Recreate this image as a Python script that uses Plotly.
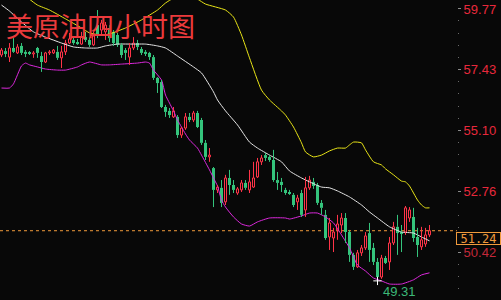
import plotly.graph_objects as go

# ---------------- data ----------------
title_text = "美原油四小时图"

open_ = [58.00, 58.15, 57.92, 58.27, 58.08, 58.35, 58.12, 58.08, 58.04, 58.27,
         57.96, 57.73, 58.08, 58.08, 58.12, 57.89, 58.12, 58.46, 58.58, 58.50,
         58.42, 58.69, 58.58, 58.39, 59.15, 58.96, 58.89, 59.04, 58.89, 58.77,
         58.39, 58.19, 57.92, 58.27, 58.46, 58.23, 58.12, 58.08, 57.92, 57.12,
         56.96, 56.00, 55.85, 55.62, 55.62, 54.92, 55.19, 55.62, 55.50, 55.77,
         55.50, 54.62, 54.08, 53.65, 52.81, 52.89, 52.35, 53.27, 53.00, 52.69,
         52.81, 53.08, 52.81, 52.92, 53.31, 53.89, 54.15, 54.08, 53.96, 53.19,
         53.12, 52.81, 52.73, 52.62, 52.35, 52.69, 52.04, 52.89, 53.12, 53.00,
         52.31, 51.85, 51.00, 50.96, 51.27, 51.46, 51.73, 51.19, 50.31, 49.85,
         50.39, 50.58, 51.15, 50.58, 50.04, 49.46, 50.19, 50.04, 50.77, 51.39,
         51.19, 51.19, 51.73, 51.77, 51.00, 50.62, 50.73, 51.08]
high = [58.27, 58.27, 58.46, 58.65, 58.42, 58.46, 58.19, 58.15, 58.15, 58.31,
        58.12, 58.12, 58.19, 58.23, 58.35, 58.35, 58.58, 58.85, 58.69, 58.62,
        58.89, 58.89, 58.69, 58.89, 59.73, 59.35, 59.27, 59.15, 58.96, 58.85,
        58.46, 58.27, 58.46, 58.69, 58.58, 58.31, 58.19, 58.12, 58.00, 57.15,
        57.04, 56.08, 55.96, 56.00, 55.69, 55.23, 55.77, 55.77, 55.85, 55.85,
        55.58, 54.73, 54.42, 53.69, 53.00, 53.19, 53.39, 53.58, 53.19, 52.92,
        53.19, 53.19, 53.58, 53.89, 54.04, 54.15, 54.23, 54.15, 54.35, 53.50,
        53.27, 52.89, 52.81, 52.69, 52.62, 52.81, 53.31, 53.35, 53.27, 53.08,
        52.42, 52.04, 51.73, 51.35, 51.85, 51.92, 51.92, 51.27, 50.39, 50.50,
        50.69, 51.19, 51.54, 50.77, 50.19, 50.31, 50.27, 51.00, 51.58, 51.85,
        51.46, 52.19, 52.15, 52.12, 51.35, 51.39, 51.35, 51.46]
low = [57.92, 57.92, 57.73, 58.08, 58.04, 58.00, 57.92, 58.00, 57.89, 57.89,
       57.35, 57.69, 58.00, 58.04, 57.81, 57.50, 58.00, 58.42, 58.39, 58.39,
       58.39, 58.50, 58.31, 58.35, 58.65, 58.73, 58.58, 58.50, 58.35, 58.31,
       57.89, 57.81, 57.62, 58.19, 58.19, 58.00, 57.96, 57.81, 57.04, 56.54,
       55.96, 55.62, 55.58, 55.58, 54.81, 54.81, 55.12, 55.42, 55.42, 55.19,
       54.54, 53.96, 53.89, 52.15, 52.69, 52.15, 52.23, 52.62, 52.69, 52.62,
       52.73, 52.81, 52.69, 52.89, 53.27, 53.77, 53.92, 53.89, 53.12, 52.81,
       52.73, 52.62, 52.62, 52.15, 52.04, 51.77, 51.77, 52.81, 52.85, 52.23,
       51.85, 50.89, 50.50, 50.42, 50.89, 51.15, 50.77, 50.04, 49.73, 49.81,
       50.27, 50.50, 50.04, 49.92, 49.31, 49.39, 49.96, 49.73, 50.69, 50.31,
       50.42, 51.08, 51.58, 50.81, 50.23, 50.50, 50.62, 51.00]
close = [58.19, 58.04, 58.27, 58.12, 58.31, 58.08, 58.04, 58.04, 58.08, 58.08,
         57.73, 58.08, 58.12, 58.19, 57.89, 58.12, 58.46, 58.62, 58.46, 58.42,
         58.69, 58.58, 58.39, 58.73, 58.77, 59.23, 59.15, 58.65, 58.46, 58.39,
         58.00, 58.08, 58.27, 58.46, 58.31, 58.08, 58.04, 57.92, 57.12, 56.92,
         56.00, 55.81, 55.69, 55.85, 54.92, 55.19, 55.62, 55.50, 55.77, 55.23,
         54.62, 54.08, 54.15, 52.81, 52.92, 52.31, 53.27, 53.00, 52.81, 52.85,
         53.08, 52.89, 53.12, 53.27, 53.89, 54.04, 54.04, 53.96, 53.19, 53.08,
         53.00, 52.69, 52.69, 52.23, 52.50, 51.85, 52.89, 53.19, 52.96, 52.31,
         52.12, 50.96, 51.54, 51.19, 51.50, 51.73, 51.19, 50.31, 49.85, 50.39,
         50.58, 51.04, 50.50, 50.04, 49.46, 50.19, 50.00, 50.77, 51.39, 51.15,
         51.12, 52.12, 52.04, 50.96, 50.69, 50.89, 51.08, 51.24]

upper_idx = [0, 3, 5, 7, 9, 12, 16, 20, 22, 25, 27, 31, 35, 39, 41, 43, 46, 49, 51, 56,
             58, 60, 62, 65, 67, 70, 71, 73, 75, 76, 78, 80, 82, 84, 86, 87, 88, 90, 91, 93,
             95, 96, 98, 100, 101, 102, 104, 105, 106, 107]
upper_val = [61.65, 60.88, 60.50, 60.15, 59.92, 59.73, 59.39, 59.04, 58.85, 58.77,
             58.81, 59.04, 59.35, 59.73, 60.00, 60.19, 60.35, 60.15, 59.96, 59.73,
             59.46, 58.77, 57.89, 56.65, 56.27, 55.85, 55.69, 55.23, 54.62, 54.27,
             54.08, 54.15, 54.31, 54.42, 54.42, 54.54, 54.65, 54.62, 54.35, 53.89,
             53.77, 53.62, 53.39, 53.15, 53.12, 52.96, 52.42, 52.23, 52.12, 52.12]

mid_idx = [0, 2, 5, 8, 11, 15, 18, 21, 24, 26, 29, 33, 36, 39, 41, 44, 48, 50, 53, 54,
           56, 59, 62, 64, 67, 70, 72, 75, 77, 80, 82, 84, 87, 90, 92, 94, 97, 100, 103, 105, 107]
mid_val = [59.92, 59.69, 59.27, 58.89, 58.69, 58.46, 58.31, 58.27, 58.27, 58.35,
           58.42, 58.42, 58.42, 58.35, 58.27, 57.96, 57.54, 57.31, 56.58, 56.27,
           55.85, 55.31, 54.65, 54.42, 54.15, 53.89, 53.54, 53.27, 53.12, 52.92,
           52.89, 52.77, 52.54, 52.23, 51.96, 51.73, 51.39, 51.19, 51.15, 51.00, 50.85]

lower_idx = [0, 2, 3, 5, 6, 7, 9, 11, 14, 16, 19, 20, 22, 25, 27, 30, 34, 36, 37, 38,
             40, 41, 42, 43, 44, 45, 46, 47, 49, 50, 52, 53, 54, 55, 56, 58, 60, 62, 64, 67,
             71, 72, 75, 77, 79, 81, 83, 85, 87, 89, 91, 93, 95, 97, 100, 103, 105, 107]
lower_val = [56.73, 56.73, 56.89, 57.58, 57.69, 57.62, 57.54, 57.46, 57.42, 57.42,
             57.54, 57.62, 57.73, 57.62, 57.62, 57.65, 57.69, 57.73, 57.69, 57.42,
             57.04, 56.46, 56.15, 55.85, 55.50, 55.23, 54.96, 54.73, 54.42, 54.15,
             53.58, 53.27, 52.96, 52.42, 52.15, 51.77, 51.50, 51.42, 51.58, 51.73,
             51.73, 51.69, 51.81, 51.92, 51.92, 51.77, 51.54, 51.08, 50.58, 49.92,
             49.69, 49.42, 49.31, 49.19, 49.19, 49.35, 49.54, 49.62]

price_ticks = [59.77, 57.43, 55.10, 52.76, 50.42]
tick_labels = ["59.77", "57.43", "55.10", "52.76", "50.42"]

# ---------------- style ----------------
BG = "#080808"
RED = "#ff3448"
GREEN = "#34c47c"
YELLOW = "#e8e417"
WHITE = "#e6e6e6"
MAGENTA = "#dc28dc"
ORANGE = "#f09a3c"
LABEL_RED = "#e8283c"

idx = list(range(len(close)))
up = [c >= o for o, c in zip(open_, close)]


def wicks(sel):
    xs, ys = [], []
    for i in idx:
        if up[i] != sel:
            continue
        top = max(open_[i], close[i])
        bot = min(open_[i], close[i])
        xs += [i, i, None, i, i, None]
        ys += [high[i], top, None, bot, low[i], None]
    return xs, ys


fig = go.Figure()

# bands
fig.add_trace(go.Scatter(x=upper_idx, y=upper_val, mode="lines",
                         line=dict(color=YELLOW, width=1, shape="spline", smoothing=0.5)))
fig.add_trace(go.Scatter(x=mid_idx, y=mid_val, mode="lines",
                         line=dict(color=WHITE, width=1, shape="spline", smoothing=0.5)))
fig.add_trace(go.Scatter(x=lower_idx, y=lower_val, mode="lines",
                         line=dict(color=MAGENTA, width=1, shape="spline", smoothing=0.5)))

# wicks
wx, wy = wicks(True)
fig.add_trace(go.Scatter(x=wx, y=wy, mode="lines", line=dict(color=RED, width=1)))
wx, wy = wicks(False)
fig.add_trace(go.Scatter(x=wx, y=wy, mode="lines", line=dict(color=GREEN, width=1)))

# bodies
ux = [i for i in idx if up[i]]
fig.add_trace(go.Bar(x=ux, base=[open_[i] for i in ux],
                     y=[close[i] - open_[i] for i in ux], width=0.5,
                     marker=dict(color=BG, line=dict(color=RED, width=1))))
dx = [i for i in idx if not up[i]]
fig.add_trace(go.Bar(x=dx, base=[close[i] for i in dx],
                     y=[open_[i] - close[i] for i in dx], width=0.75,
                     marker=dict(color=GREEN, line=dict(width=0))))

# lowest low marker
low_min = min(low)
imin = low.index(low_min)
fig.add_trace(go.Scatter(x=[imin], y=[low_min], mode="markers",
                         marker=dict(symbol="cross-thin", size=6,
                                     line=dict(color="#ffffff", width=1))))

last = close[-1]
tick_text = tick_labels[:-1] + [f'<span style="color:#c4283a">{tick_labels[-1]}</span>']

fig.update_layout(
    width=501, height=300,
    margin=dict(l=0, r=44, t=0, b=0, pad=0),
    paper_bgcolor=BG, plot_bgcolor=BG,
    showlegend=False, hovermode=False, barmode="overlay",
    xaxis=dict(range=[-0.375, -0.375 + 457 / 4], visible=False, fixedrange=True),
    yaxis=dict(range=[48.575, 60.116], side="right", tickmode="array",
               tickvals=price_ticks, ticktext=tick_text,
               ticks="outside", ticklen=3, tickwidth=1, tickcolor="#8a8a8a",
               tickfont=dict(family="Liberation Sans, Arial", size=13, color=LABEL_RED),
               showgrid=False, zeroline=False, showline=False, fixedrange=True,
               automargin=False,
               minor=dict(ticks="outside", ticklen=1, tickwidth=1, tickcolor="#6a6a6a",
                          tickmode="linear", tick0=price_ticks[-1],
                          dtick=round((price_ticks[0] - price_ticks[1]) / 5, 3))),
    shapes=[dict(type="line", xref="paper", x0=0, x1=1, yref="y", y0=last, y1=last,
                 line=dict(color=ORANGE, width=1, dash="3px,3px"), layer="below")],
    annotations=[
        dict(text=title_text, xref="paper", yref="paper", x=0, y=1,
             xanchor="left", yanchor="middle", xshift=4, yshift=-25,
             showarrow=False,
             font=dict(family="Noto Sans CJK SC", size=27, color="#ec3a3c")),
        dict(text=f"{last:.2f}", xref="paper", yref="y", x=1, y=last,
             xanchor="left", yanchor="top", xshift=-1, yshift=-1,
             showarrow=False, bgcolor=BG, bordercolor=ORANGE, borderwidth=1,
             borderpad=0, width=43, height=11,
             font=dict(family="DejaVu Sans Mono", size=12, color=ORANGE)),
        dict(text=f"{low_min:.2f}", xref="x", yref="y", x=imin, y=low_min,
             xanchor="left", yanchor="top", xshift=3, yshift=-1,
             showarrow=False,
             font=dict(family="Liberation Sans, Arial", size=13, color="#3cb878")),
    ],
)

fig.write_html("out.html")
